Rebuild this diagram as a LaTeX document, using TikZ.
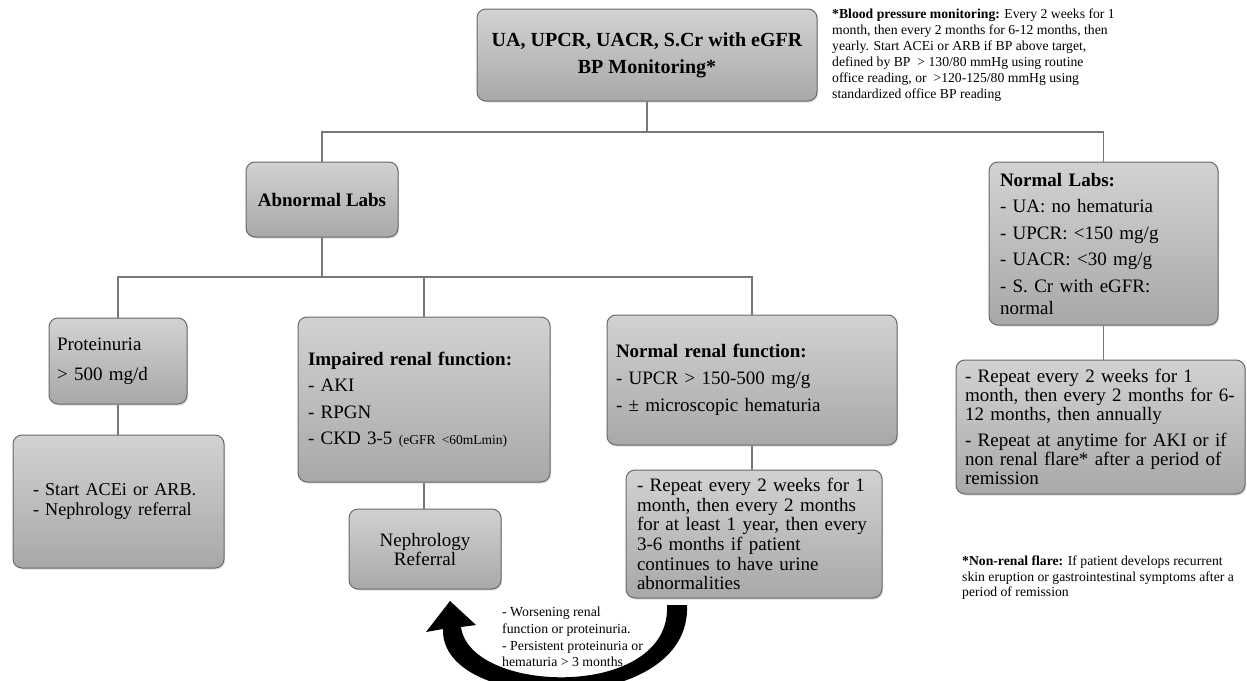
\documentclass[tikz,border=0pt]{standalone}
\usepackage{fontspec}
\setmainfont{Liberation Serif}
\usetikzlibrary{shadows}
\definecolor{boxline}{RGB}{105,105,105}
\definecolor{linkgray}{RGB}{120,120,120}
\definecolor{boxtop}{RGB}{210,210,210}
\definecolor{boxbot}{RGB}{168,168,168}
\tikzset{
 box/.style={draw=boxline, line width=1pt, rounded corners=9pt, top color=boxtop, bottom color=boxbot,
   drop shadow={shadow xshift=1.2pt,shadow yshift=-1.5pt,opacity=0.25}, inner ysep=0pt, align=left},
 link/.style={draw=linkgray, line width=1.6pt},
 note/.style={align=left, inner sep=0pt, font=\fontsize{13.7}{16}\selectfont},
 body/.style={font=\fontsize{19}{#1}\selectfont}
}
\begin{document}
\begin{tikzpicture}[x=1pt,y=-1pt]
\useasboundingbox (0,0) rectangle (1247,680);

% boxes
\node[box, minimum width=340pt, minimum height=92pt, align=center, font=\fontsize{20}{27}\selectfont\bfseries] (top) at (647,55) {UA, UPCR, UACR, S.Cr with eGFR\\BP Monitoring*};

\node[box, minimum width=152pt, minimum height=75pt, align=center, font=\fontsize{19}{22}\selectfont\bfseries] (abn) at (322,199.5) {Abnormal Labs};

\node[box, minimum width=229pt, minimum height=163pt, inner xsep=11pt, text width=207pt, body=22] (nlabs) at (1103.5,243.5)
 {\textbf{Normal Labs:}\\[4.5pt]- UA: no hematuria\\[4.5pt]- UPCR: <150 mg/g\\[4.5pt]- UACR: <30 mg/g\\[4.5pt]- S. Cr with eGFR:\\normal};

\node[box, minimum width=138pt, minimum height=86pt, inner xsep=8pt, text width=122pt, body=30] (prot) at (118,361)
 {Proteinuria\\> 500 mg/d};

\node[box, minimum width=211pt, minimum height=133pt, inner xsep=20pt, text width=171pt, font=\fontsize{18.2}{19.5}\selectfont] (acei) at (118.5,501.5)
 {- Start ACEi or ARB.\\- Nephrology referral};

\node[box, minimum width=252pt, minimum height=165pt, inner xsep=10pt, text width=232pt, body=26.5] (imp) at (424,399.5)
 {\textbf{Impaired renal function:}\\- AKI\\- RPGN\\- CKD 3-5 {\fontsize{13.5}{13.5}\selectfont(eGFR <60mLmin)}};

\node[box, minimum width=152pt, minimum height=80pt, align=center, body=19] (nref) at (425,549)
 {Nephrology\\Referral};

\node[box, minimum width=290pt, minimum height=130pt, inner xsep=9pt, text width=272pt, body=27] (nren) at (752,380)
 {\textbf{Normal renal function:}\\- UPCR > 150-500 mg/g\\- ± microscopic hematuria};

\node[box, minimum width=256pt, minimum height=128pt, inner xsep=11pt, text width=234pt, body=19.6] (rmid) at (754,534)
 {- Repeat every 2 weeks for 1\\month, then every 2 months\\for at least 1 year, then every\\3-6 months if patient\\continues to have urine\\abnormalities};

\node[box, minimum width=289pt, minimum height=134pt, inner xsep=9pt, text width=271pt, body=19] (rright) at (1100.5,427)
 {- Repeat every 2 weeks for 1\\month, then every 2 months for 6-\\12 months, then annually\\[7pt]- Repeat at anytime for AKI or if\\non renal flare* after a period of\\remission};

% notes
\node[note, anchor=west] (bpnote) at (832,55)
 {\textbf{*Blood pressure monitoring:} Every 2 weeks for 1\\month, then every 2 months for 6-12 months, then\\yearly. Start ACEi or ARB if BP above target,\\defined by BP \ > 130/80 mmHg using routine\\office reading, or \ >120-125/80 mmHg using\\standardized office BP reading};

\node[note, anchor=west, font=\fontsize{13.7}{15.5}\selectfont] (flare) at (962,578)
 {\textbf{*Non-renal flare:} If patient develops recurrent\\skin eruption or gastrointestinal symptoms after a\\period of remission};

\node[note, anchor=west, font=\fontsize{13.8}{16.7}\selectfont] (why) at (502,637)
 {- Worsening renal\\function or proteinuria.\\- Persistent proteinuria or\\hematuria > 3 months};

% connectors
\coordinate (j1) at (647,132);
\coordinate (j2) at (322,277);
\draw[link] (top.south) -- (j1);
\draw[link] (abn.north) |- (j1) -| (nlabs.north);
\draw[link] (abn.south) -- (j2);
\draw[link] (prot.north) |- (j2) -| (nren.north);
\draw[link] (j2) -| (imp.north);
\draw[link] (prot.south) -- (prot.south |- acei.north);
\draw[link] (imp.south) -- (imp.south |- nref.north);
\draw[link] (nren.south) -- (nren.south |- rmid.north);
\draw[link] (nlabs.south) -- (nlabs.south |- rright.north);

% curved feedback arrow
\coordinate (arrS) at (677,605);
\coordinate (arrE) at (450,601);
\begin{scope}
\clip (0,0) rectangle (1247,680);
\fill[black] (687,605) .. controls (692,718) and (440,715) .. (443,629)
  -- (426,632) -- (arrE) -- (476,625) -- (461,627)
  .. controls (470,695) and (672,700) .. (667,605) -- cycle;
\end{scope}
\end{tikzpicture}
\end{document}
